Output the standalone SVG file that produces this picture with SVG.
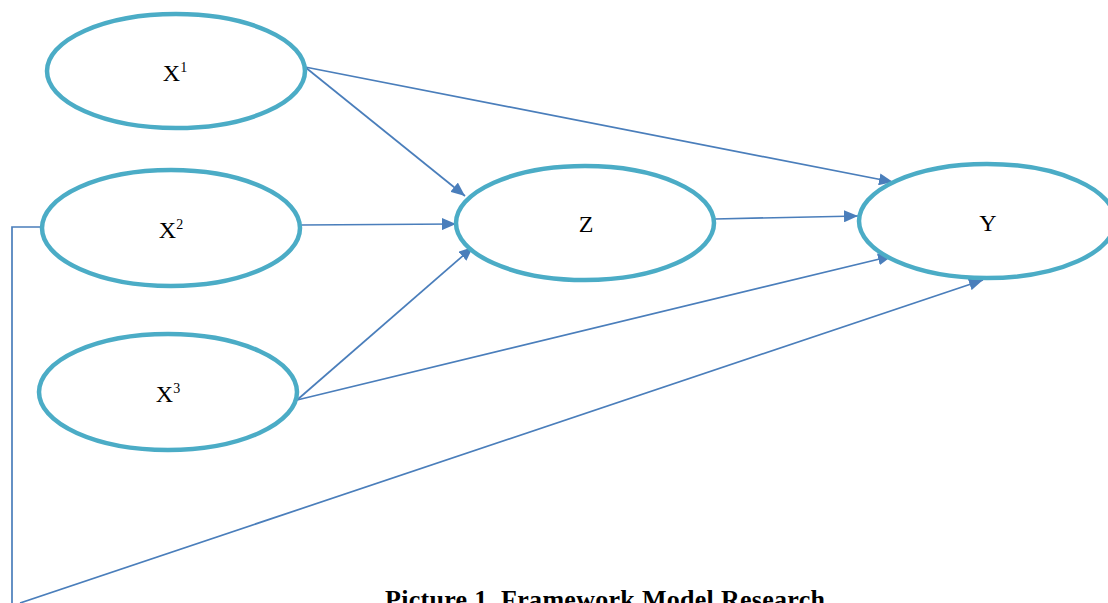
<svg xmlns="http://www.w3.org/2000/svg" width="1108" height="603" viewBox="0 0 1108 603">
<defs>
<style>
.node{fill:#fff;stroke:#4BACC6;stroke-width:4.5}
.lbl{font-family:"Liberation Serif","Times New Roman",serif;font-size:24px;fill:#000;text-anchor:middle}
.sup{font-size:14px}
.edge{stroke:#4A7EBB;stroke-width:1.7;fill:none}
.cap{font-family:"Liberation Serif","Times New Roman",serif;font-size:26px;font-weight:bold;fill:#000}
</style>
<marker id="arr" viewBox="0 0 14 12" refX="14" refY="6" markerWidth="14" markerHeight="12" markerUnits="userSpaceOnUse" orient="auto">
<path d="M0,0 L14,6 L0,12 z" fill="#4A7EBB"/>
</marker>
</defs>
<rect width="1108" height="603" fill="#fff"/>
<g id="connectors">
<path class="edge" d="M305,67 L465,196" marker-end="url(#arr)"/>
<path class="edge" d="M305,67 L893,182" marker-end="url(#arr)"/>
<path class="edge" d="M301,225 L456,224" marker-end="url(#arr)"/>
<path class="edge" d="M715,219 L858,216" marker-end="url(#arr)"/>
<path class="edge" d="M297,400 L473,247" marker-end="url(#arr)"/>
<path class="edge" d="M297,400 L892,256" marker-end="url(#arr)"/>
<path class="edge" d="M42,227 L12,227 L12,603"/>
<path class="edge" d="M20,603 L983,280" marker-end="url(#arr)"/>
</g>
<g id="X1">
<ellipse class="node" cx="176" cy="71" rx="129" ry="57"/>
<text class="lbl" x="175" y="81">X<tspan class="sup" dy="-9">1</tspan></text>
</g>
<g id="X2">
<ellipse class="node" cx="171" cy="228" rx="129" ry="58"/>
<text class="lbl" x="171" y="238">X<tspan class="sup" dy="-9">2</tspan></text>
</g>
<g id="X3">
<ellipse class="node" cx="168" cy="392" rx="129" ry="58"/>
<text class="lbl" x="168" y="402">X<tspan class="sup" dy="-9">3</tspan></text>
</g>
<g id="Z">
<ellipse class="node" cx="585" cy="223" rx="129" ry="57"/>
<text class="lbl" x="586" y="232">Z</text>
</g>
<g id="Y">
<ellipse class="node" cx="987" cy="221" rx="128" ry="57"/>
<text class="lbl" x="988" y="231">Y</text>
</g>
<text class="cap" x="385" y="608" textLength="440">Picture 1.  Framework Model Research</text>
</svg>
